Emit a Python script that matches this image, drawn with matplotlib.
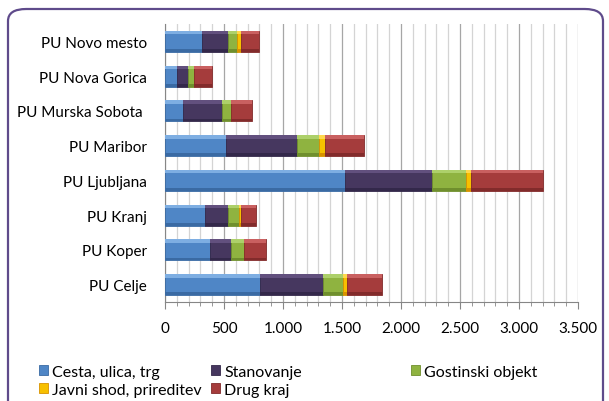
import matplotlib
matplotlib.use("Agg")
import matplotlib.pyplot as plt
from matplotlib.patches import FancyBboxPatch
from matplotlib.ticker import MultipleLocator, FuncFormatter
import numpy as np

plt.rcParams['font.family'] = ['Lato', 'DejaVu Sans']

# police directorates, bottom to top
uprave = ['PU Celje', 'PU Koper', 'PU Kranj', 'PU Ljubljana', 'PU Maribor',
          'PU Murska Sobota ', 'PU Nova Gorica', 'PU Novo mesto']

cesta = [808, 384, 342, 1528, 520, 155, 104, 311]
stanovanje = [528, 173, 189, 735, 599, 328, 88, 220]
gostinski = [175, 110, 93, 288, 189, 74, 51, 82]
javni_shod = [29, 6, 20, 40, 51, 5, 4, 28]
drug_kraj = [302, 181, 124, 612, 325, 175, 150, 158]

serije = ['Cesta, ulica, trg', 'Stanovanje', 'Gostinski objekt',
          'Javni shod, prireditev', 'Drug kraj']
barve = ['#4f86c6', '#46375f', '#8fb340', '#f7c000', '#a53c3c']
svetle = ['#7eaee2', '#62507e', '#add06a', '#ffd84d', '#c96060']
temne = ['#3a6aa3', '#33284a', '#6f8f2d', '#d79200', '#822b2b']

fig = plt.figure(figsize=(6.09, 4.02), dpi=100)
ax = fig.add_axes([165/609, 1-303/402, 413/609, 278/402])

y = np.arange(len(uprave))
h = 0.6
levo = np.zeros(len(uprave))
rocke = []
for vals, name, c, cl, cd in zip([cesta, stanovanje, gostinski, javni_shod, drug_kraj],
                                 serije, barve, svetle, temne):
    vals = np.array(vals, dtype=float)
    b = ax.barh(y, vals, height=h, left=levo, color=c, edgecolor=cd,
                linewidth=0.6, label=name, zorder=3)
    # bevel look: light strip at top, dark strip at bottom
    ax.barh(y + h/2 - 0.05, vals, height=0.1, left=levo, color=cl,
            linewidth=0, zorder=4)
    ax.barh(y - h/2 + 0.04, vals, height=0.08, left=levo, color=cd,
            linewidth=0, zorder=4)
    rocke.append(b)
    levo += vals

ax.set_xlim(0, 3500)
ax.set_ylim(-0.5, len(uprave) - 0.5)
ax.set_yticks(y)
ax.set_yticklabels(uprave, fontsize=11)
ax.tick_params(axis='y', length=0, pad=13)

ax.xaxis.set_major_locator(MultipleLocator(500))
ax.xaxis.set_minor_locator(MultipleLocator(100))
ax.xaxis.set_major_formatter(FuncFormatter(lambda v, p: f'{int(v):,}'.replace(',', '.')))
ax.tick_params(axis='x', which='major', length=5, color='#868686', labelsize=11, pad=9)
ax.tick_params(axis='x', which='minor', length=3, color='#868686')
ax.grid(axis='x', which='major', color='#a6a6a6', linewidth=0.9, zorder=0)
ax.grid(axis='x', which='minor', color='#d4d4d4', linewidth=0.9, zorder=0)

for s in ['top', 'right']:
    ax.spines[s].set_visible(False)
ax.spines['left'].set_color('#868686')
ax.spines['bottom'].set_color('#868686')

# legend: each entry placed where the original has it
mesta = [(41, 373), (213, 373), (413, 373), (41, 391), (213, 391)]
for i, (xpx, ypx) in enumerate(mesta):
    fig.legend([rocke[i]], [serije[i]], loc='center left',
               bbox_to_anchor=(xpx/609 - 0.004, 1 - ypx/402),
               frameon=False, fontsize=11.5, handlelength=0.6,
               handleheight=0.6, handletextpad=0.25, borderpad=0.0,
               borderaxespad=0.0)

# outer rounded frame, running off the bottom edge
okvir = FancyBboxPatch((8/609, -20/402), 595/609, 412/402,
                       boxstyle='round,pad=0,rounding_size=0.03',
                       transform=fig.transFigure, fill=False,
                       edgecolor='#5f4b8b', linewidth=1.6, clip_on=False)
fig.patches.append(okvir)

fig.savefig('out.png', dpi=100)
